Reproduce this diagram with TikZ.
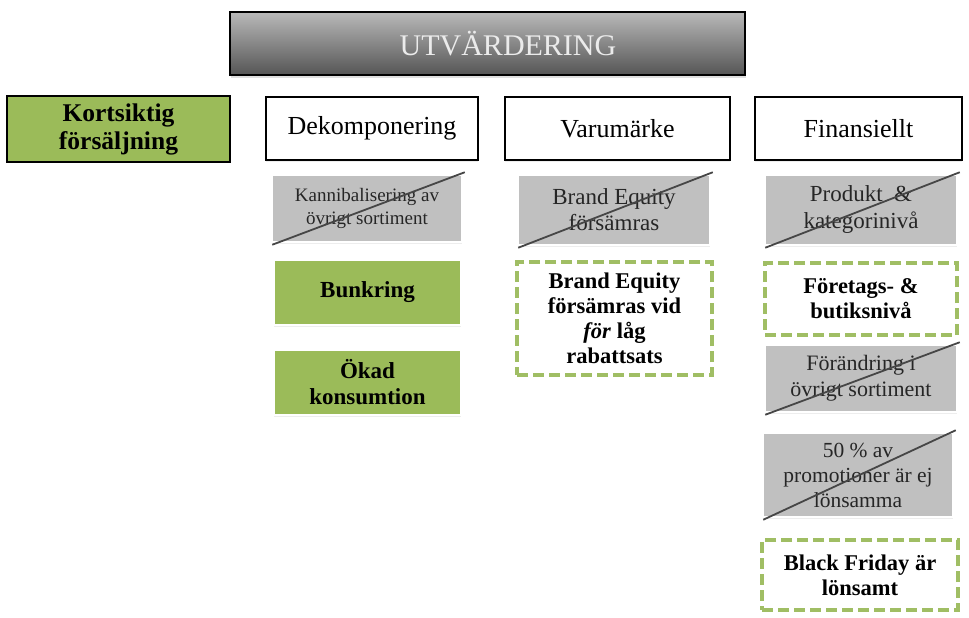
\documentclass[tikz,border=0pt]{standalone}
\usepackage{fontspec}
\setmainfont{Liberation Serif}
\usetikzlibrary{shadows}
\definecolor{olive}{RGB}{155,187,89}
\definecolor{oliveline}{RGB}{160,190,100}
\definecolor{boxgray}{RGB}{192,192,192}
\definecolor{striker}{RGB}{70,70,70}
\definecolor{titletop}{RGB}{185,185,185}
\definecolor{titlebot}{RGB}{85,85,85}
\tikzset{
  softshadow/.style={drop shadow={opacity=0.14,shadow xshift=0pt,shadow yshift=-2pt}},
  hdr/.style={draw=black,line width=2.5pt,fill=white,align=center,inner sep=0pt,
    font=\fontsize{26}{30}\selectfont,softshadow},
  grayb/.style={draw=white,line width=1.5pt,fill=boxgray,align=center,inner sep=0pt,
    text=black!85,softshadow},
  greenb/.style={draw=white,line width=1.5pt,fill=olive,align=center,inner sep=0pt,
    font=\bfseries\fontsize{23}{26}\selectfont,softshadow},
  dashb/.style={draw=oliveline,line width=3.5pt,dash pattern=on 11pt off 5pt,fill=white,
    align=center,inner sep=0pt,font=\bfseries\fontsize{22.5}{25}\selectfont},
  strike/.style={draw=striker,line width=1.8pt},
}
\newcommand{\strikebox}[1]{\draw[strike] ([shift={(1pt,-2pt)}]#1.south west) -- ([shift={(2pt,2pt)}]#1.north east);}
\begin{document}
\begin{tikzpicture}[x=1pt,y=1pt]
\useasboundingbox (0,0) rectangle (969,-618);
% title bar
\node[draw=black,line width=1.5pt,top color=titletop,bottom color=titlebot,
  minimum width=515pt,minimum height=63pt,inner sep=0pt,
  drop shadow={opacity=0.25,shadow xshift=1pt,shadow yshift=-3pt}] (title) at (487.5,-43.5) {};
\node[text=black!8,font=\fontsize{30}{34}\selectfont] (titletext) at (508,-44) {UTVÄRDERING};
% left box
\node[draw=black,line width=2.5pt,fill=olive,minimum width=223pt,minimum height=66pt,
  align=center,inner sep=0pt,font=\bfseries\fontsize{25.5}{28}\selectfont] (kort) at (118.5,-129)
  {Kortsiktig\\försäljning};
% headers
\node[hdr,minimum width=212pt,minimum height=63pt] (dek) at (372,-128.5) {Dekomponering};
\node[hdr,minimum width=225pt,minimum height=63pt] (var) at (617.5,-128.5) {Varumärke};
\node[hdr,minimum width=207pt,minimum height=63pt] (fin) at (858.5,-128.5) {Finansiellt};
% Dekomponering column
\node[grayb,minimum width=190pt,minimum height=67pt,font=\fontsize{19}{23}\selectfont] (kann) at (367,-208.5)
  {Kannibalisering av\\övrigt sortiment};
\node[greenb,minimum width=187pt,minimum height=65pt] (bunk) at (367.5,-292.5) {Bunkring};
\node[greenb,minimum width=187pt,minimum height=65pt] (okad) at (367.5,-382.5) {Ökad\\konsumtion};
% Varumärke column
\node[grayb,minimum width=192pt,minimum height=70pt,font=\fontsize{23}{26}\selectfont] (beg) at (614,-210)
  {Brand Equity\\försämras};
\node[dashb,minimum width=195pt,minimum height=113pt] (bed) at (614.5,-318.5)
  {Brand Equity\\försämras vid\\\textit{för} låg\\rabattsats};
% Finansiellt column
\node[grayb,minimum width=192pt,minimum height=70pt,font=\fontsize{23}{27}\selectfont] (prod) at (861,-210)
  {Produkt~ \&\\kategorinivå};
\node[dashb,minimum width=192pt,minimum height=72pt] (foret) at (861,-299)
  {Företags- \&\\butiksnivå};
\node[grayb,minimum width=192pt,minimum height=67pt,font=\fontsize{22}{26}\selectfont] (forand) at (861,-378.5)
  {Förändring i\\övrigt sortiment};
\node[grayb,minimum width=190pt,minimum height=84pt,font=\fontsize{21.5}{25}\selectfont] (femtio) at (858,-475)
  {50 \% av\\promotioner är ej\\lönsamma};
\node[dashb,minimum width=196pt,minimum height=70pt] (black) at (860,-575)
  {Black Friday är\\lönsamt};
% strike-through lines
\strikebox{kann}
\strikebox{beg}
\strikebox{prod}
\strikebox{forand}
\strikebox{femtio}
\end{tikzpicture}
\end{document}
